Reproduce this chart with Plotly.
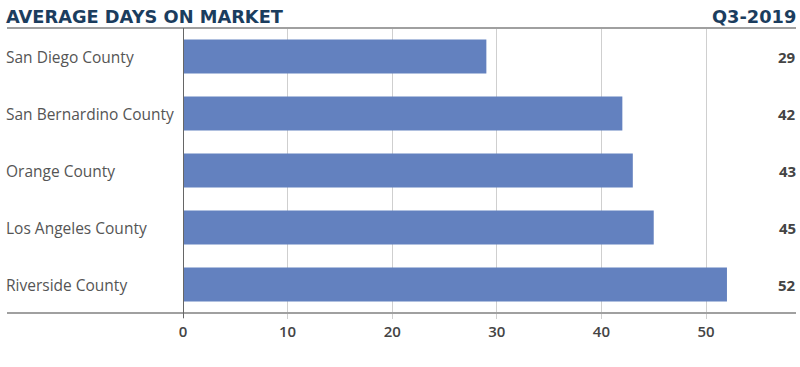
import plotly.graph_objects as go

categories = ["San Diego County", "San Bernardino County", "Orange County",
              "Los Angeles County", "Riverside County"]
values = [29, 42, 43, 45, 52]
tick_vals = [0, 10, 20, 30, 40, 50]
title = "AVERAGE DAYS ON MARKET"
period = "Q3-2019"

W, H = 800, 367
L, R, T, B = 183, 4, 28, 54
pw = W - L - R
ph = H - T - B

fig = go.Figure(go.Bar(
    x=values, y=categories, orientation="h",
    marker=dict(color="#6381BF", line=dict(width=0)),
    width=0.6, hoverinfo="skip",
))

fig.update_layout(
    width=W, height=H,
    margin=dict(l=L, r=R, t=T, b=B),
    paper_bgcolor="white", plot_bgcolor="white",
    showlegend=False,
    font=dict(family="Open Sans, sans-serif", color="#444"),
)
fig.update_xaxes(
    range=[0, 58.6], tickvals=tick_vals, showgrid=True, gridcolor="#cfcfcf",
    gridwidth=1, zeroline=False, ticks="outside", ticklen=5, tickcolor="#cfcfcf",
    tickfont=dict(size=15, color="#444", family="Open Sans, sans-serif", weight=600),
    showline=False,
)
fig.update_yaxes(
    categoryorder="array", categoryarray=categories[::-1],
    showticklabels=False, showgrid=False, zeroline=False, showline=False,
    range=[-0.5, 4.5],
)

lx0 = -(L - 7) / pw
# top and bottom rules
fig.add_shape(type="line", xref="paper", yref="paper", x0=lx0, x1=1, y0=1, y1=1,
              line=dict(color="#a0a0a0", width=2))
fig.add_shape(type="line", xref="paper", yref="paper", x0=lx0, x1=1, y0=0, y1=0,
              line=dict(color="#a0a0a0", width=2))
# zero axis line
fig.add_shape(type="line", xref="x", yref="paper", x0=0, x1=0, y0=-5 / ph, y1=1,
              line=dict(color="#666", width=2))

for c, v in zip(categories, values):
    fig.add_annotation(xref="paper", yref="y", x=lx0, xshift=-3, y=c, text=c,
                       showarrow=False, xanchor="left",
                       font=dict(size=15.5, color="#555", family="Open Sans, sans-serif"))
    fig.add_annotation(xref="paper", yref="y", x=1, xshift=2, y=c, text=str(v),
                       showarrow=False, xanchor="right",
                       font=dict(size=15, color="#444", family="Open Sans, sans-serif",
                                 weight=700))

fig.add_annotation(xref="paper", yref="paper", x=lx0, xshift=-3, y=1, yshift=-1,
                   text=f"<b>{title}</b>", showarrow=False, xanchor="left", yanchor="bottom",
                   font=dict(size=17.8, color="#1b3d5e", family="DejaVu Sans, sans-serif"))
fig.add_annotation(xref="paper", yref="paper", x=1, xshift=2, y=1, yshift=-1,
                   text=f"<b>{period}</b>", showarrow=False, xanchor="right", yanchor="bottom",
                   font=dict(size=17.8, color="#1b3d5e", family="DejaVu Sans, sans-serif"))

fig.write_html("out.html", config={"displayModeBar": False},
               post_script="document.body.style.margin='0';")
